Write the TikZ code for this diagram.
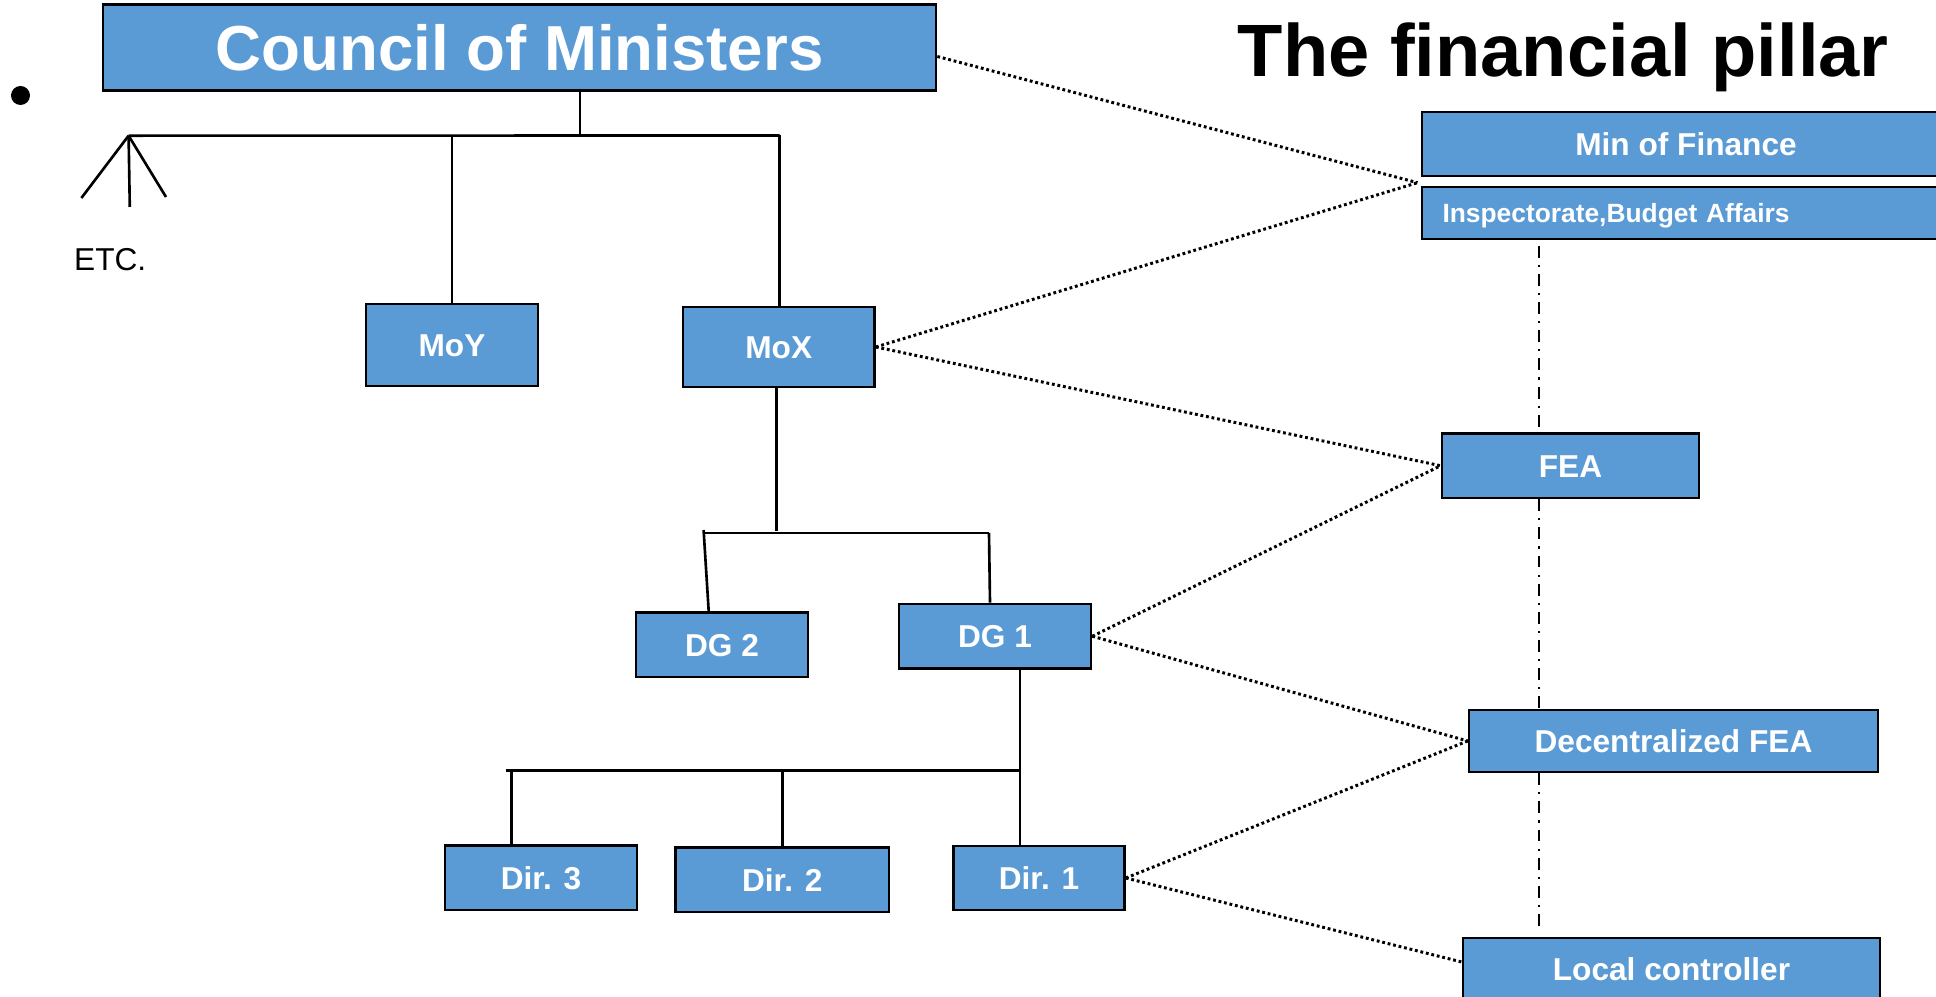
\documentclass[tikz,border=0pt]{standalone}
\usepackage{fontspec}
\setmainfont{Liberation Sans}
\definecolor{boxblue}{RGB}{91,155,213}
\begin{document}
\begin{tikzpicture}[
  box/.style={draw=black,line width=0.75pt,fill=boxblue,text=white,inner sep=0pt,
    font=\bfseries\fontsize{9}{11}\selectfont,text height=6.5pt,text depth=0pt},
  link/.style={line width=0.75pt},
  dots/.style={line width=0.85pt,dash pattern=on 0.8pt off 0.8pt},
  pillar/.style={line width=0.65pt,dash pattern=on 3.4pt off 2pt on 0.6pt off 2pt}]
\useasboundingbox (0,0) rectangle (19.36,-9.97);
% ministries tree
\node[circle,fill=black,inner sep=0pt,minimum size=0.19cm] (blt) at (0.205,-0.955) {};
\node[box,minimum width=8.33cm,minimum height=0.864cm,
  font=\bfseries\fontsize{18.1}{22}\selectfont,text height=13pt] (cm) at (5.195,-0.475) {Council of Ministers};
\node[anchor=base west,inner sep=0pt,font=\fontsize{9}{11}\selectfont] (etc) at (0.735,-2.71) {ETC.};
\node[box,minimum width=1.72cm,minimum height=0.82cm] (moy) at (4.52,-3.45) {MoY};
\node[box,minimum width=1.915cm,minimum height=0.80cm] (mox) at (7.7875,-3.47) {MoX};
\node[box,minimum width=1.72cm,minimum height=0.645cm] (dg2) at (7.22,-6.4475) {DG 2};
\node[box,minimum width=1.92cm,minimum height=0.645cm] (dg1) at (9.95,-6.3625) {DG 1};
\node[box,minimum width=1.92cm,minimum height=0.645cm] (d3) at (5.41,-8.7775) {Dir. 3};
\node[box,minimum width=2.135cm,minimum height=0.645cm] (d2) at (7.8225,-8.7975) {Dir. 2};
\node[box,minimum width=1.71cm,minimum height=0.64cm] (d1) at (10.39,-8.78) {Dir. 1};

\coordinate (lft) at (1.286,-1.357);
\coordinate (cmj) at (5.80,-1.355);
\coordinate (rgt) at (7.795,-1.355);
\coordinate (etc1) at (0.814,-1.98);
\coordinate (etc2) at (1.298,-2.07);
\coordinate (etc3) at (1.66,-1.97);
\draw[link] (cmj |- cm.south) -- (cmj);
\draw[link] (lft) -- (rgt);
\draw[link] (lft) -- (etc1);
\draw[link] (lft) -- (etc2);
\draw[link] (lft) -- (etc3);
\draw[link] (moy.north |- lft) -- (moy.north);
\draw[link] (rgt) -- (rgt |- mox.north);

\coordinate (dgj) at (7.765,-5.31);
\coordinate (dgl) at (7.036,-5.30);
\coordinate (dgr) at (9.89,-5.33);
\draw[link] (dgj |- mox.south) -- (dgj);
\draw[link] (dgl |- dgr) -- (dgr);
\draw[link] (dgl) -- ([xshift=-1.33mm]dg2.north);
\draw[link] (dgr) -- ([xshift=-0.5mm]dg1.north);

\coordinate (dl) at (5.056,-7.705);
\coordinate (dj) at (10.20,-7.705);
\coordinate (d3j) at (5.117,-7.705);
\draw[link] (dj |- dg1.south) -- (dj |- d1.north);
\draw[link] (dl) -- (dj);
\draw[link] (d3j) -- (d3j |- d3.north);
\draw[link] (d2.north |- dl) -- (d2.north);

% financial pillar
\node[anchor=base west,inner sep=0pt,font=\bfseries\fontsize{21.1}{25}\selectfont] (ttl) at (12.37,-0.77) {The financial pillar};
\node[box,minimum width=5.28cm,minimum height=0.64cm] (mf) at (16.86,-1.44) {Min of Finance};
\node[box,minimum height=0.52cm,text width=4.87cm,align=left,inner xsep=0.205cm,
  font=\bfseries\fontsize{7.5}{9}\selectfont,text height=5.4pt] (insp) at (16.86,-2.13) {Inspectorate,Budget Affairs};
\node[box,minimum width=2.57cm,minimum height=0.645cm] (fea) at (15.705,-4.6575) {FEA};
\node[box,minimum width=4.09cm,minimum height=0.62cm] (dfea) at (16.735,-7.41) {Decentralized FEA};
\node[box,minimum width=4.17cm,minimum height=0.62cm] (lc) at (16.715,-9.69) {Local controller};

\coordinate (pt) at (15.39,-2.46);
\coordinate (pb) at (15.39,-9.27);
\draw[pillar] (pt) -- (pt |- fea.north);
\draw[pillar] (pt |- fea.south) -- (pt |- dfea.north);
\draw[pillar] (pt |- dfea.south) -- (pb);

% links between the two
\coordinate (mfj) at (14.175,-1.827);
\draw[dots] ([yshift=-0.9mm]cm.east) -- (mfj);
\draw[dots] (mox.east) -- (mfj);
\draw[dots] (mox.east) -- (fea.west);
\draw[dots] (dg1.east) -- (fea.west);
\draw[dots] (dg1.east) -- (dfea.west);
\draw[dots] (d1.east) -- (dfea.west);
\draw[dots] (d1.east) -- ([yshift=0.7mm]lc.west);
\end{tikzpicture}
\end{document}
